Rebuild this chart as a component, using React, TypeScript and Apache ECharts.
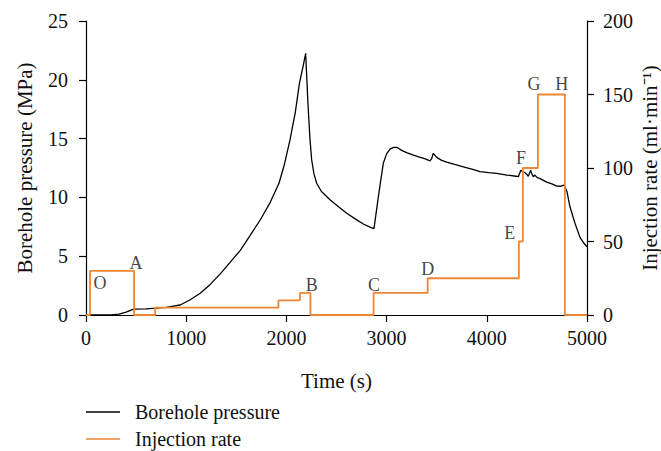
import React, { useEffect, useRef } from "react";
import * as echarts from "echarts";

// Borehole pressure (MPa) vs time (s)
const pressureTime = [0, 250, 330, 400, 450, 480, 600, 700, 800, 940, 1040, 1140, 1240, 1340, 1440, 1540, 1640, 1740, 1840, 1926, 1980, 2036, 2090, 2130, 2170, 2192, 2215, 2235, 2252, 2275, 2302, 2350, 2435, 2520, 2602, 2690, 2768, 2840, 2874, 2920, 2967, 3000, 3034, 3070, 3101, 3150, 3200, 3267, 3320, 3380, 3433, 3450, 3466, 3500, 3550, 3600, 3680, 3766, 3850, 3932, 4020, 4099, 4200, 4290, 4314, 4330, 4338, 4360, 4381, 4400, 4414, 4438, 4450, 4464, 4480, 4500, 4531, 4597, 4650, 4697, 4740, 4770, 4800, 4830, 4880, 4930, 4970, 5000];
const pressureValues = [0, 0, 0.08, 0.25, 0.42, 0.5, 0.52, 0.58, 0.65, 0.85, 1.3, 1.85, 2.6, 3.5, 4.5, 5.5, 6.8, 8.1, 9.6, 11.2, 12.8, 14.9, 17.3, 19.7, 21.3, 22.25, 18.0, 15.0, 13.2, 12.0, 11.2, 10.5, 9.8, 9.2, 8.65, 8.15, 7.74, 7.45, 7.34, 10.2, 12.9, 13.7, 14.1, 14.25, 14.26, 14.0, 13.8, 13.6, 13.45, 13.3, 13.1, 13.3, 13.75, 13.4, 13.15, 13.0, 12.8, 12.6, 12.4, 12.2, 12.1, 12.05, 11.9, 11.8, 11.76, 12.1, 12.3, 12.2, 12.1, 11.95, 11.8, 12.3, 12.0, 11.76, 11.9, 11.7, 11.6, 11.3, 11.15, 10.96, 10.95, 11.05, 10.5, 9.2, 7.8, 6.6, 6.1, 5.8];

// Injection rate (ml/min): step change times and the rate held after each
const rateTimes = [0, 40, 480, 690, 1920, 2135, 2240, 2870, 3410, 4320, 4360, 4510, 4780, 5000];
const rateValues = [0, 30, 0, 5, 10, 15, 0, 15, 25, 50, 100, 150, 0];

// Stage labels (time, rate-axis position)
const stageNames = ["O", "A", "B", "C", "D", "E", "F", "G", "H"];
const stageTimes = [140, 499, 2252, 2874, 3410, 4230, 4341, 4471, 4748];
const stageRates = [21.8, 35.6, 20.4, 20.4, 31.1, 55.6, 107, 157, 157];

const seriesNames = ["Borehole pressure", "Injection rate"];

const FONT = "'Liberation Serif', 'Times New Roman', serif";

export default function App() {
  const ref = useRef<HTMLDivElement>(null);
  useEffect(() => {
    if (!ref.current) return;
    const chart = echarts.init(ref.current, undefined, { renderer: "svg" });
    const pressureData = pressureTime.map((t, i) => [t, pressureValues[i]]);
    const rateData: number[][] = [];
    for (let i = 0; i < rateValues.length; i++) {
      rateData.push([rateTimes[i], rateValues[i]]);
      rateData.push([rateTimes[i + 1], rateValues[i]]);
    }
    const labelData = stageNames.map((n, i) => ({ name: n, value: [stageTimes[i], stageRates[i]] }));
    const axisLine = { show: true, lineStyle: { color: "#000", width: 1.2 } };
    const axisTick = { show: true, inside: false, length: 7, lineStyle: { color: "#000", width: 1.2 } };
    const axisLabel = { color: "#111", fontFamily: FONT, fontSize: 20, formatter: (v: number) => String(v) };
    const nameStyle = { fontFamily: FONT, fontSize: 21, color: "#111" };
    const legendBase = {
      orient: "horizontal",
      left: 86,
      icon: "rect",
      itemWidth: 34,
      itemHeight: 1.5,
      padding: 0,
      textStyle: { fontFamily: FONT, fontSize: 20, lineHeight: 18, color: "#111", padding: [0, 0, 0, 10] },
    };
    chart.setOption({
      animation: false,
      backgroundColor: "#fff",
      grid: { left: 86, right: 74, top: 21, bottom: 136, outerBoundsMode: "none", containLabel: false },
      legend: [
        { ...legendBase, top: 402, data: [seriesNames[0]] },
        { ...legendBase, top: 429, data: [seriesNames[1]] },
      ],
      xAxis: {
        type: "value",
        min: 0,
        max: 5000,
        interval: 1000,
        name: "Time (s)",
        nameLocation: "middle",
        nameGap: 55,
        nameMoveOverlap: false,
        nameTextStyle: nameStyle,
        axisLine,
        axisTick,
        axisLabel: { ...axisLabel, margin: 13 },
        splitLine: { show: false },
      },
      yAxis: [
        {
          type: "value",
          min: 0,
          max: 25,
          interval: 5,
          name: "Borehole pressure (MPa)",
          nameLocation: "middle",
          nameGap: 51,
          nameMoveOverlap: false,
          nameTextStyle: nameStyle,
          axisLine,
          axisTick,
          axisLabel: { ...axisLabel, margin: 18 },
          splitLine: { show: false },
        },
        {
          type: "value",
          min: 0,
          max: 200,
          interval: 50,
          position: "right",
          name: "Injection rate (ml·min⁻¹)",
          nameLocation: "middle",
          nameGap: 52,
          nameMoveOverlap: false,
          nameRotate: 90,
          nameTextStyle: nameStyle,
          axisLine,
          axisTick,
          axisLabel: { ...axisLabel, margin: 16 },
          splitLine: { show: false },
        },
      ],
      series: [
        {
          name: seriesNames[0],
          type: "line",
          yAxisIndex: 0,
          data: pressureData,
          symbol: "none",
          smooth: false,
          lineStyle: { color: "#000", width: 1.3 },
          itemStyle: { color: "#000" },
        },
        {
          name: seriesNames[1],
          type: "line",
          yAxisIndex: 1,
          data: rateData,
          symbol: "none",
          lineStyle: { color: "#EE8634", width: 1.8 },
          itemStyle: { color: "#EE8634" },
        },
        {
          name: "labels",
          type: "scatter",
          yAxisIndex: 1,
          data: labelData,
          symbolSize: 1,
          itemStyle: { color: "transparent" },
          label: {
            show: true,
            position: "inside",
            formatter: "{b}",
            fontFamily: FONT,
            fontSize: 18,
            color: "#111",
          },
        },
      ],
    });
    return () => chart.dispose();
  }, []);
  return <div ref={ref} style={{ width: 661, height: 451, position: "absolute", left: 0, top: 0 }} />;
}
